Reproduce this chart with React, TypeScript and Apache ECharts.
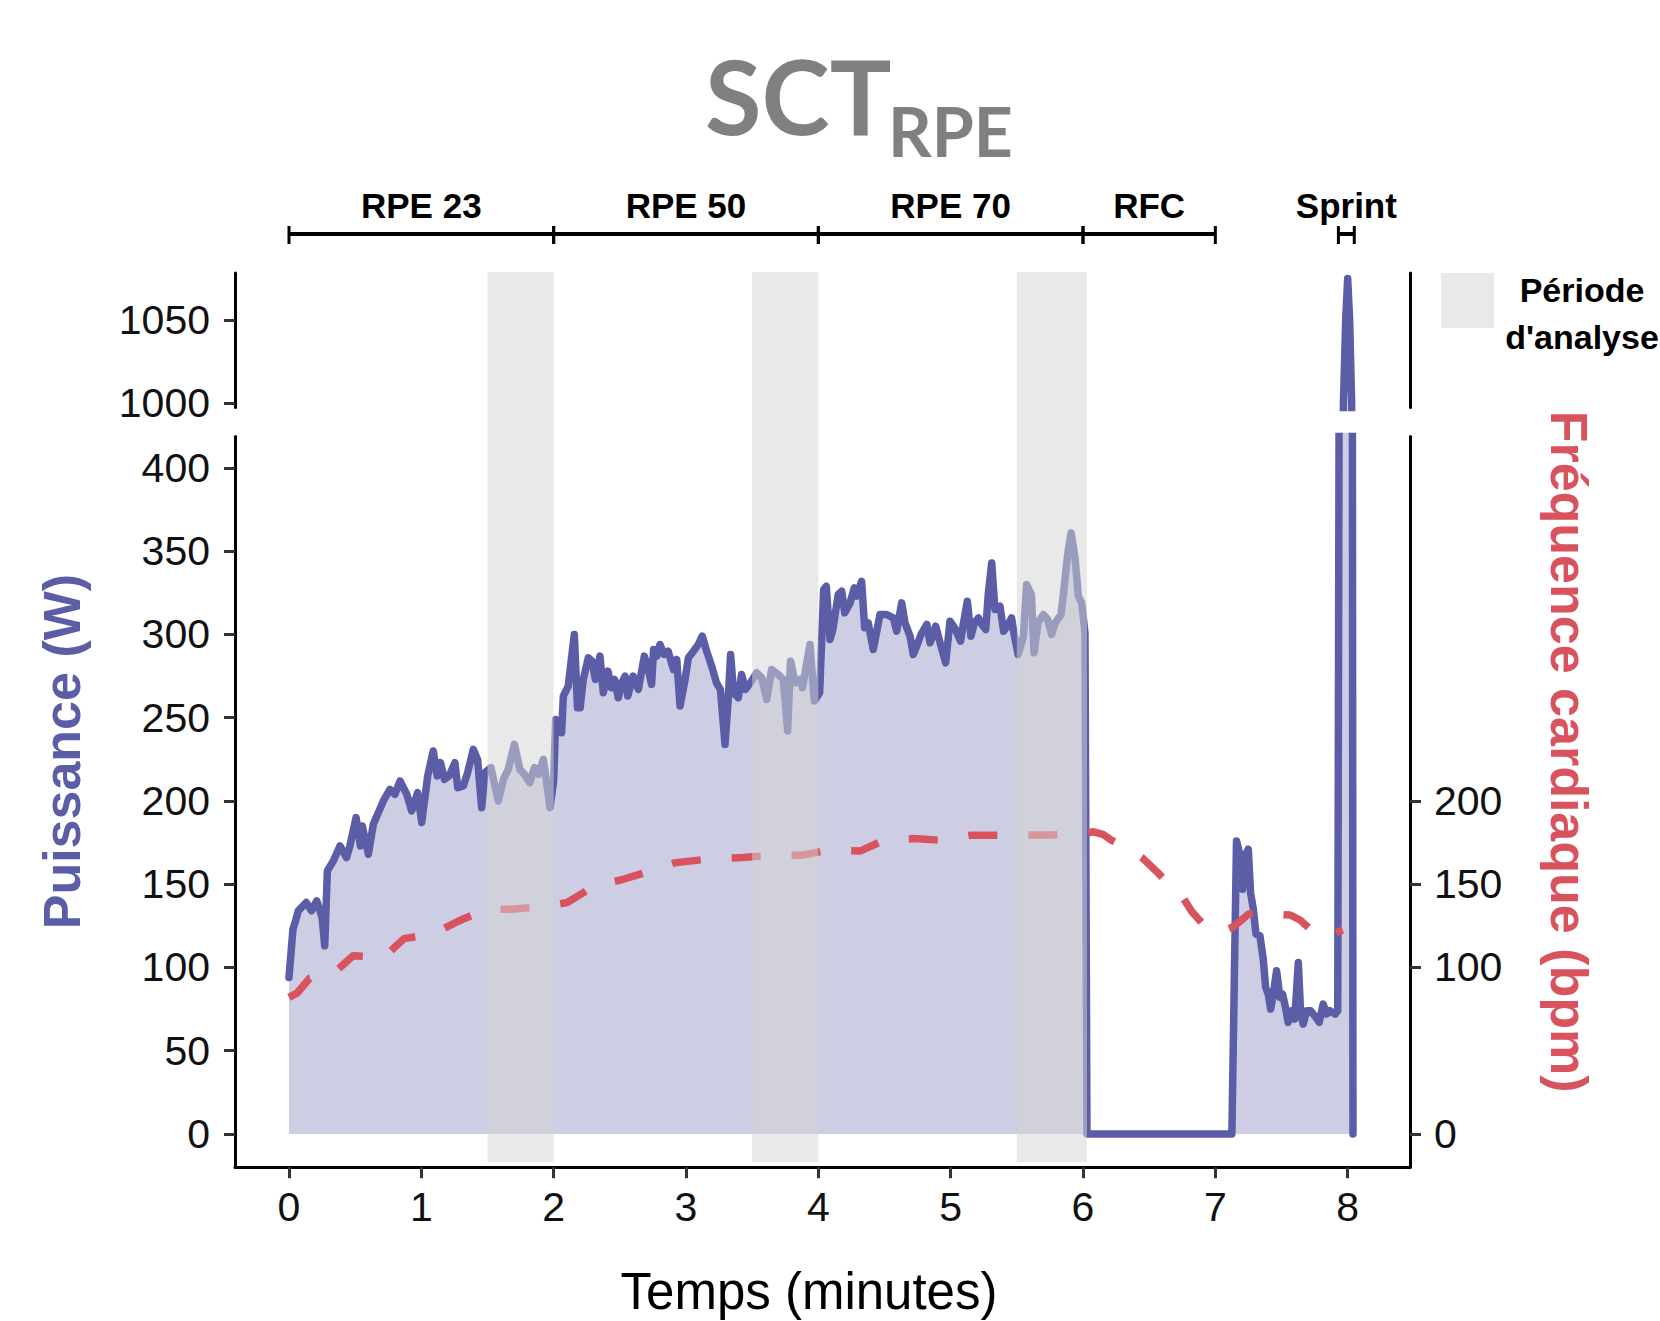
import React, { useEffect, useRef } from 'react';
import * as echarts from 'echarts';

// ---------- DATA ----------
const powerTime = [
  0, 0.03, 0.05, 0.07, 0.13, 0.17, 0.21, 0.25, 0.27, 0.29,
  0.335, 0.385, 0.435, 0.46, 0.507, 0.54, 0.554, 0.6, 0.637, 0.713,
  0.763, 0.8, 0.839, 0.89, 0.927, 0.972, 1.003, 1.048, 1.09, 1.12,
  1.145, 1.175, 1.21, 1.254, 1.275, 1.318, 1.35, 1.393, 1.425, 1.456,
  1.48, 1.526, 1.582, 1.62, 1.657, 1.703, 1.745, 1.78, 1.82, 1.855,
  1.885, 1.922, 1.947, 1.972, 2.0, 2.015, 2.06, 2.073, 2.11, 2.156,
  2.18, 2.2, 2.224, 2.262, 2.29, 2.315, 2.35, 2.375, 2.41, 2.437,
  2.46, 2.488, 2.515, 2.54, 2.56, 2.6, 2.64, 2.685, 2.71, 2.74,
  2.755, 2.78, 2.803, 2.835, 2.865, 2.905, 2.93, 2.955, 2.993, 3.018,
  3.056, 3.093, 3.123, 3.156, 3.194, 3.23, 3.26, 3.295, 3.32, 3.337,
  3.36, 3.395, 3.42, 3.45, 3.495, 3.534, 3.572, 3.61, 3.647, 3.697,
  3.735, 3.768, 3.79, 3.825, 3.86, 3.88, 3.937, 3.97, 4.01, 4.04,
  4.06, 4.088, 4.11, 4.15, 4.177, 4.2, 4.24, 4.272, 4.29, 4.327,
  4.35, 4.377, 4.415, 4.466, 4.516, 4.567, 4.592, 4.63, 4.655, 4.693,
  4.718, 4.743, 4.776, 4.82, 4.844, 4.887, 4.927, 4.962, 4.995, 5.03,
  5.075, 5.095, 5.126, 5.153, 5.18, 5.21, 5.235, 5.265, 5.285, 5.31,
  5.335, 5.373, 5.4, 5.43, 5.46, 5.48, 5.51, 5.55, 5.574, 5.61,
  5.63, 5.66, 5.7, 5.733, 5.763, 5.79, 5.834, 5.85, 5.884, 5.91,
  5.94, 5.965, 5.99, 6.015, 6.03, 7.125, 7.16, 7.185, 7.206, 7.224,
  7.249, 7.266, 7.287, 7.307, 7.337, 7.362, 7.38, 7.4, 7.418, 7.438,
  7.463, 7.488, 7.508, 7.53, 7.55, 7.575, 7.6, 7.627, 7.645, 7.664,
  7.69, 7.72, 7.75, 7.785, 7.815, 7.84, 7.865, 7.905, 7.925, 7.935,
  7.968, 7.985, 8.0, 8.015, 8.03, 8.04,
];
const powerWatts = [
  94, 123, 128, 134, 139, 134, 140, 130, 113, 158,
  164, 173, 166, 173, 190, 173, 185, 168, 186, 200,
  207, 204, 212, 204, 194, 205, 187, 215, 230, 215,
  223, 213, 215, 223, 208, 209, 217, 231, 225, 196,
  217, 220, 200, 213, 219, 234, 219, 216, 211, 220,
  216, 225, 211, 196, 212, 249, 241, 263, 269, 300,
  256, 256, 273, 286, 284, 273, 287, 265, 278, 268,
  273, 262, 271, 275, 263, 275, 267, 287, 281, 270,
  291, 287, 294, 288, 290, 279, 285, 257, 273, 286,
  290, 294, 299, 290, 281, 271, 267, 234, 262, 288,
  265, 262, 276, 267, 272, 277, 274, 261, 279, 276,
  273, 242, 284, 271, 273, 268, 294, 260, 265, 327,
  329, 297, 303, 324, 326, 313, 319, 328, 323, 332,
  304, 307, 291, 312, 312, 310, 302, 319, 307, 299,
  288, 293, 300, 306, 295, 305, 293, 283, 308, 304,
  296, 306, 320, 299, 307, 310, 306, 303, 325, 343,
  315, 317, 302, 305, 310, 300, 288, 299, 330, 324,
  289, 307, 312, 309, 300, 307, 312, 323, 348, 361,
  346, 323, 319, 301, 0, 0, 176, 168, 147, 167,
  171, 145, 135, 120, 119, 105, 88, 84, 75, 84,
  98, 82, 84, 76, 67, 74, 69, 103, 72, 66,
  74, 74, 71, 67, 78, 72, 74, 72, 74, 430,
  1000, 1050, 1075, 1050, 1000, 0,
];

const hrTime = [
  0, 0.06, 0.156, 0.338, 0.484, 0.716, 0.869, 1.1, 1.274, 1.486,
  1.678, 1.91, 2.103, 2.315, 2.508, 2.72, 2.913, 3.2, 3.43, 3.645,
  3.877, 4.05, 4.32, 4.494, 4.725, 4.918, 5.149, 5.5, 5.76, 6.02,
  6.08, 6.15, 6.214, 6.33, 6.452, 6.558, 6.65, 6.743, 6.823, 6.93,
  7.035, 7.14, 7.25, 7.353, 7.45, 7.565, 7.64, 7.73, 7.83, 7.963,
];
const hrBpm = [
  82, 84.5, 93.5, 96.6, 107, 106, 117.3, 120.4, 127.6, 134.9,
  134.9, 136.4, 139, 149.4, 152.5, 157.7, 162.8, 165.4, 166, 167.4,
  167.4, 170.1, 170, 176.4, 177.4, 176.4, 179.4, 179.5, 179.5, 180.5,
  181.5, 180, 176.5, 172, 165.5, 157.5, 150, 143.5, 133.5, 124,
  121.5, 124.5, 132, 133.5, 132, 131.5, 128.5, 122, 118.5, 122.5,
];

const bandStarts = [1.5, 3.5, 5.5];
const bandEnds = [2, 4, 6.03];

const phaseStarts = [0, 2, 4, 6, 7.93];
const phaseEnds = [2, 4, 6, 7, 8.05];
const phaseLabels = ['RPE 23', 'RPE 50', 'RPE 70', 'RFC', 'Sprint'];

const xTicks = [0, 1, 2, 3, 4, 5, 6, 7, 8];
const powerTicksLow = [0, 50, 100, 150, 200, 250, 300, 350, 400];
const powerTicksHigh = [1000, 1050];
const hrTicks = [0, 100, 150, 200];

const legendLines = ['Période', "d'analyse"];

// ---------- STYLE ----------
const FONT = "'Liberation Sans', Arial, Helvetica, sans-serif";
const BLUE = '#5b5ea6';
const RED = '#d9535f';
const BAND = 'rgba(213,213,213,0.52)';
const X_MIN = -0.408;
const X_MAX = 8.471;
const GRID_LEFT = 235;
const GRID_WIDTH = 1175;
const LINE_W = 7.5;

export default function App() {
  const ref = useRef<HTMLDivElement>(null);

  useEffect(() => {
    if (!ref.current) return;
    const chart = echarts.init(ref.current, null, { renderer: 'svg' });

    const powerData = powerTime.map((t, i) => [t, powerWatts[i]]);
    const hrData = hrTime.map((t, i) => [t, hrBpm[i]]);
    const bandData = bandStarts.map((s, i) => [s, bandEnds[i]]);
    const phaseData = phaseStarts.map((s, i) => [s, phaseEnds[i]]);

    const axisLineStyle = { color: '#000', width: 3 };
    const tickStyle = { color: '#333', width: 3 };
    const labelBase = { fontSize: 41, color: '#111', fontFamily: FONT, formatter: (v: number) => String(v) };

    const hiddenX = (gridIndex: number) => ({
      gridIndex, type: 'value', min: X_MIN, max: X_MAX, show: false,
    });

    const centered = { align: 'center', verticalAlign: 'middle', textAlign: 'center', textVerticalAlign: 'middle' };

    const option: any = {
      animation: false,
      backgroundColor: '#fff',
      grid: [
        { left: GRID_LEFT, top: 436.4, width: GRID_WIDTH, height: 730.8 },
        { left: GRID_LEFT, top: 273, width: GRID_WIDTH, height: 134.6 },
        { left: GRID_LEFT, top: 272, width: GRID_WIDTH, height: 890 },
        { left: GRID_LEFT, top: 180, width: GRID_WIDTH, height: 70 },
      ],
      xAxis: [
        {
          gridIndex: 0, type: 'value', min: X_MIN, max: X_MAX,
          axisLine: { show: true, onZero: false, lineStyle: axisLineStyle },
          axisTick: { show: true, customValues: xTicks, length: 11, lineStyle: tickStyle },
          axisLabel: { show: true, customValues: xTicks, margin: 19, ...labelBase },
          splitLine: { show: false },
        },
        hiddenX(1), hiddenX(2), hiddenX(3),
      ],
      yAxis: [
        {
          gridIndex: 0, type: 'value', position: 'left', min: -20, max: 419,
          axisLine: { show: true, onZero: false, lineStyle: axisLineStyle },
          axisTick: { show: true, customValues: powerTicksLow, length: 11, lineStyle: tickStyle },
          axisLabel: { show: true, customValues: powerTicksLow, margin: 25, ...labelBase },
          splitLine: { show: false },
        },
        {
          gridIndex: 0, type: 'value', position: 'right', min: -20, max: 419,
          axisLine: { show: true, onZero: false, lineStyle: axisLineStyle },
          axisTick: { show: true, customValues: hrTicks, length: 11, lineStyle: tickStyle },
          axisLabel: { show: true, customValues: hrTicks, margin: 24, ...labelBase },
          splitLine: { show: false },
        },
        {
          gridIndex: 1, type: 'value', position: 'left', min: 997.5, max: 1078.3,
          axisLine: { show: true, onZero: false, lineStyle: axisLineStyle },
          axisTick: { show: true, customValues: powerTicksHigh, length: 11, lineStyle: tickStyle },
          axisLabel: { show: true, customValues: powerTicksHigh, margin: 25, ...labelBase },
          splitLine: { show: false },
        },
        {
          gridIndex: 1, type: 'value', position: 'right', min: 997.5, max: 1078.3,
          axisLine: { show: true, onZero: false, lineStyle: axisLineStyle },
          axisTick: { show: false },
          axisLabel: { show: false },
          splitLine: { show: false },
        },
        { gridIndex: 2, type: 'value', min: 0, max: 1, show: false },
        { gridIndex: 3, type: 'value', min: 0, max: 70, inverse: true, show: false },
      ],
      series: [
        {
          type: 'line', xAxisIndex: 0, yAxisIndex: 0, data: powerData,
          symbol: 'none', showSymbol: false, silent: true, clip: true, z: 2,
          lineStyle: { color: BLUE, width: LINE_W, join: 'round', cap: 'round' },
          areaStyle: { color: 'rgba(91,94,166,0.3)', opacity: 1, origin: 'auto' },
        },
        {
          type: 'line', xAxisIndex: 1, yAxisIndex: 2, data: powerData,
          symbol: 'none', showSymbol: false, silent: true, clip: true, z: 2,
          lineStyle: { color: BLUE, width: LINE_W, join: 'round', cap: 'round' },
        },
        {
          type: 'line', xAxisIndex: 0, yAxisIndex: 1, data: hrData,
          symbol: 'none', showSymbol: false, silent: true, clip: true, z: 3,
          lineStyle: { color: RED, width: LINE_W, type: [29, 31], cap: 'butt', join: 'round' },
        },
        {
          type: 'custom', xAxisIndex: 2, yAxisIndex: 4, data: bandData, silent: true, z: 4,
          renderItem: (params: any, api: any) => {
            const p0 = api.coord([api.value(0), 1]);
            const p1 = api.coord([api.value(1), 0]);
            return {
              type: 'rect',
              shape: { x: p0[0], y: p0[1], width: p1[0] - p0[0], height: p1[1] - p0[1] },
              style: { fill: BAND },
            };
          },
        },
        {
          type: 'custom', xAxisIndex: 3, yAxisIndex: 5, data: phaseData, silent: true, z: 5,
          renderItem: (params: any, api: any) => {
            const s = api.value(0);
            const e = api.value(1);
            const a = api.coord([s, 54]);
            const b = api.coord([e, 54]);
            const tTop = api.coord([s, 46])[1];
            const tBot = api.coord([s, 64])[1];
            const lab = api.coord([(s + e) / 2, 25]);
            return {
              type: 'group',
              children: [
                { type: 'line', shape: { x1: a[0], y1: a[1], x2: b[0], y2: b[1] }, style: { stroke: '#000', lineWidth: 4 } },
                { type: 'line', shape: { x1: a[0], y1: tTop, x2: a[0], y2: tBot }, style: { stroke: '#000', lineWidth: 3 } },
                { type: 'line', shape: { x1: b[0], y1: tTop, x2: b[0], y2: tBot }, style: { stroke: '#000', lineWidth: 3 } },
                {
                  type: 'text',
                  style: {
                    text: phaseLabels[params.dataIndex], x: lab[0], y: lab[1],
                    ...centered, font: `bold 35px ${FONT}`, fill: '#000',
                  },
                },
              ],
            };
          },
        },
      ],
      graphic: [
        {
          type: 'text', x: 705, y: 94.6,
          style: { text: 'SCT', font: "bold 103px Lato, 'Open Sans', sans-serif", fill: '#808080', align: 'left', verticalAlign: 'middle', textAlign: 'left', textVerticalAlign: 'middle' },
        },
        {
          type: 'text', x: 888, y: 130,
          style: { text: 'RPE', font: "bold 68px Lato, 'Open Sans', sans-serif", fill: '#808080', align: 'left', verticalAlign: 'middle', textAlign: 'left', textVerticalAlign: 'middle' },
        },
        {
          type: 'text', x: 61.5, y: 751.6, rotation: Math.PI / 2,
          style: { text: 'Puissance (W)', x: 0, y: 0, font: `bold 52px ${FONT}`, fill: BLUE, ...centered },
        },
        {
          type: 'text', x: 1569, y: 751.6, rotation: -Math.PI / 2,
          style: { text: 'Fréquence cardiaque (bpm)', x: 0, y: 0, font: `bold 52px ${FONT}`, fill: RED, ...centered },
        },
        {
          type: 'text', x: 809, y: 1291,
          style: { text: 'Temps (minutes)', font: `51px ${FONT}`, fill: '#000', ...centered },
        },
        {
          type: 'rect', shape: { x: 1441, y: 273, width: 53, height: 55 }, style: { fill: '#e9e9e9' },
        },
        {
          type: 'text', x: 1582, y: 289.5,
          style: { text: legendLines[0], font: `bold 34px ${FONT}`, fill: '#000', ...centered },
        },
        {
          type: 'text', x: 1582, y: 337.3,
          style: { text: legendLines[1], font: `bold 34px ${FONT}`, fill: '#000', ...centered },
        },
      ],
    };

    chart.setOption(option);
    return () => chart.dispose();
  }, []);

  return (
    <div
      ref={ref}
      style={{ position: 'absolute', left: 0, top: 0, width: 1660, height: 1321, background: '#fff' }}
    />
  );
}
